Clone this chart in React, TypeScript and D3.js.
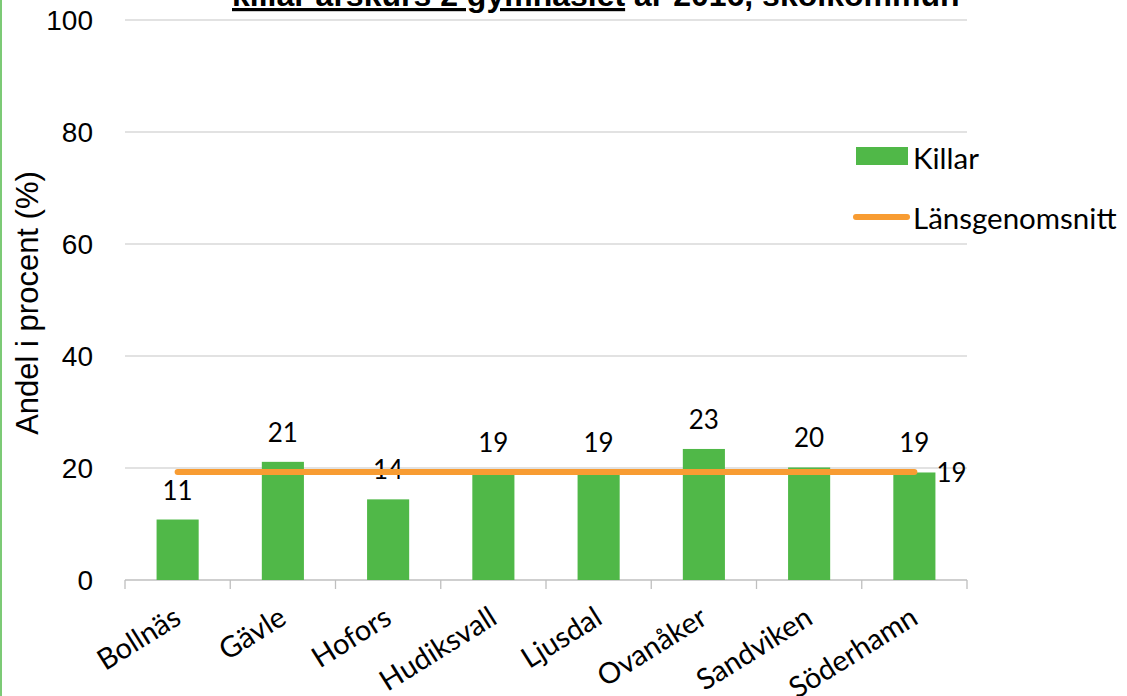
import * as d3 from "d3";
import React from "react";

const categories = ["Bollnäs", "Gävle", "Hofors", "Hudiksvall", "Ljusdal", "Ovanåker", "Sandviken", "Söderhamn"];
const killar = [10.8, 21.1, 14.4, 19.2, 19.3, 23.4, 20.1, 19.2];
const lansgenomsnitt = [19.3, 19.3, 19.3, 19.3, 19.3, 19.3, 19.3, 19.3];
const yTicks = [0, 20, 40, 60, 80, 100];
const seriesNames = ["Killar", "Länsgenomsnitt"];
const titleUnderlined = "killar årskurs 2 gymnasiet";
const titleRest = " år 2016, skolkommun";
const yTitle = "Andel i procent (%)";

const W = 1127;
const H = 696;
const GREEN = "#50b848";
const ORANGE = "#f89c32";
const LABEL_FONT = "Lato, 'Open Sans', sans-serif";
const AXIS_FONT = "'Liberation Sans', Arial, sans-serif";

export default function App() {
  const left = 125;
  const right = 967;
  const top = 20;
  const bottom = 580;

  const x = d3.scaleBand<string>().domain(categories).range([left, right]).paddingInner(0).paddingOuter(0);
  const y = d3.scaleLinear().domain([0, 100]).range([bottom, top]);
  const bw = x.bandwidth() * 0.4;
  const cx = (c: string) => (x(c) as number) + x.bandwidth() / 2;

  const line = d3
    .line<number>()
    .x((_, i) => cx(categories[i]))
    .y((d) => y(d));

  const lastIdx = categories.length - 1;

  return (
    <svg width={W} height={H} style={{ position: "absolute", left: 0, top: 0, background: "#fff" }}>
      <rect x={0} y={0} width={W} height={H} fill="#fff" />
      <line x1={1} x2={1} y1={0} y2={H} stroke={GREEN} strokeWidth={1.5} />

      {/* title, mostly cut off */}
      <text x={232} y={6} fontFamily={AXIS_FONT} fontWeight="bold" fontSize={32} fill="#000">
        <tspan textDecoration="underline">{titleUnderlined}</tspan>
        <tspan>{titleRest}</tspan>
      </text>

      {/* gridlines */}
      {yTicks.map((t) => (
        <g key={t}>
          {t > 0 && <line x1={left} x2={right} y1={y(t)} y2={y(t)} stroke="#d9d9d9" strokeWidth={1.3} />}
          <text
            x={93}
            y={y(t)}
            textAnchor="end"
            dominantBaseline="central"
            fontFamily={AXIS_FONT}
            fontSize={28}
            fill="#000"
          >
            {t}
          </text>
        </g>
      ))}

      {/* x axis */}
      <line x1={left} x2={right} y1={bottom} y2={bottom} stroke="#bfbfbf" strokeWidth={1.3} />
      {categories.concat([""]).map((c, i) => {
        const xx = left + i * x.step();
        return <line key={i} x1={xx} x2={xx} y1={bottom} y2={bottom + 9} stroke="#bfbfbf" strokeWidth={1.3} />;
      })}

      {/* bars */}
      {categories.map((c, i) => (
        <rect key={c} x={cx(c) - bw / 2} y={y(killar[i])} width={bw} height={bottom - y(killar[i])} fill={GREEN} />
      ))}

      {/* bar labels */}
      {categories.map((c, i) => (
        <text
          key={c}
          x={cx(c)}
          y={y(killar[i]) - 20}
          textAnchor="middle"
          fontFamily={LABEL_FONT}
          fontSize={26}
          fill="#000"
        >
          {Math.round(killar[i])}
        </text>
      ))}

      {/* average line */}
      <path d={line(lansgenomsnitt) as string} fill="none" stroke={ORANGE} strokeWidth={6} strokeLinecap="round" />
      <text
        x={cx(categories[lastIdx]) + 22}
        y={y(lansgenomsnitt[lastIdx])}
        dominantBaseline="central"
        fontFamily={LABEL_FONT}
        fontSize={26}
        fill="#000"
      >
        {Math.round(lansgenomsnitt[lastIdx])}
      </text>

      {/* category labels */}
      {categories.map((c) => (
        <text
          key={c}
          transform={`translate(${cx(c)},${bottom + 34}) rotate(-32)`}
          textAnchor="end"
          dy="0.35em"
          fontFamily={LABEL_FONT}
          fontSize={29}
          fill="#000"
        >
          {c}
        </text>
      ))}

      {/* y axis title */}
      <text
        transform={`translate(38,303) rotate(-90)`}
        textAnchor="middle"
        fontFamily={AXIS_FONT}
        fontSize={31}
        fill="#000"
      >
        {yTitle}
      </text>

      {/* legend */}
      <rect x={856} y={147} width={52} height={18} fill={GREEN} />
      <text x={913} y={157} dominantBaseline="central" fontFamily={LABEL_FONT} fontSize={29.5} fill="#000">
        {seriesNames[0]}
      </text>
      <line x1={856} x2={907} y1={217} y2={217} stroke={ORANGE} strokeWidth={6} strokeLinecap="round" />
      <text x={913} y={217} dominantBaseline="central" fontFamily={LABEL_FONT} fontSize={29.5} fill="#000">
        {seriesNames[1]}
      </text>
    </svg>
  );
}
